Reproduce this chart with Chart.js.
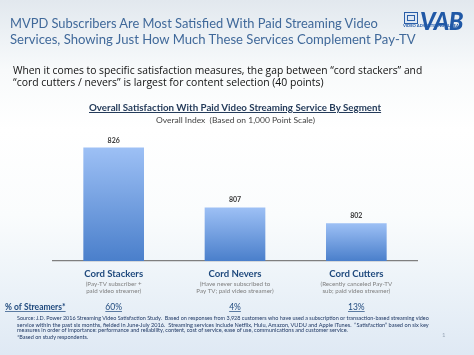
<!DOCTYPE html>
<html><head><meta charset="utf-8">
<script src="https://cdn.jsdelivr.net/npm/chart.js@4/dist/chart.umd.min.js"></script>
<style>
html,body{margin:0;padding:0;}
body{width:474px;height:355px;overflow:hidden;position:relative;font-family:Lato,sans-serif;
background:linear-gradient(180deg,#e2e8ee 0px,#ebf0f4 30px,#f8fafb 70px,#ffffff 130px,#fafcfd 215px,#ebf2f8 290px,#dfe9f4 355px);}
#cv{position:absolute;left:0;top:0;}
.t{position:absolute;white-space:nowrap;line-height:1;}
.hd{color:#40699a;font-size:13.5px;left:10px;}
.sb{color:#111;font-family:"Open Sans";font-size:9.8px;left:13px;}
.ft{color:#1f3864;font-size:5.2px;left:17px;}
</style></head><body>
<canvas id="cv" width="474" height="355"></canvas>

<div class="t hd" style="top:17px" data-w="368">MVPD Subscribers Are Most Satisfied With Paid Streaming Video</div>
<div class="t hd" style="top:32.6px" data-w="406">Services, Showing Just How Much These Services Complement Pay-TV</div>

<div style="position:absolute;left:404px;top:12px;width:12px;height:10px;border:1.3px solid #2a5ea8;background:#dfe8f3"></div>
<div style="position:absolute;left:407px;top:15px;width:6px;height:4px;border:1px solid #2a5ea8;"></div>
<div class="t" style="left:420px;top:10px;font-weight:900;font-style:italic;font-size:14.5px;color:#2058a6;letter-spacing:-0.5px" data-w="42">VAB</div>
<div class="t" style="left:403px;top:24px;font-weight:700;font-size:3.6px;color:#2058a6" data-w="59">VIDEO ADVERTISING BUREAU</div>

<div class="t sb" style="top:65px" data-w="410">When it comes to specific satisfaction measures, the gap between “cord stackers” and</div>
<div class="t sb" style="top:77px" data-w="311">“cord cutters / nevers” is largest for content selection (40 points)</div>

<div class="t" id="ct" style="left:89px;top:102.5px;font-weight:700;font-size:9.6px;color:#243b5a;text-decoration:underline" data-w="292">Overall Satisfaction With Paid Video Streaming Service By Segment</div>
<div class="t" style="left:156px;top:116px;font-size:8px;color:#444" data-w="159">Overall Index&nbsp; (Based on 1,000 Point Scale)</div>

<div class="t ft" style="top:316px" data-w="412">Source: J.D. Power 2016 Streaming Video Satisfaction Study.&nbsp; Based on responses from 3,928 customers who have used a subscription or transaction-based streaming video</div>
<div class="t ft" style="top:322.2px" data-w="411">service within the past six months, fielded in June-July 2016.&nbsp; Streaming services include Netflix, Hulu, Amazon, VUDU and Apple iTunes.&nbsp; “Satisfaction” based on six key</div>
<div class="t ft" style="top:328.4px" data-w="331">measures in order of importance: performance and reliability, content, cost of service, ease of use, communications and customer service.</div>
<div class="t ft" style="top:334.6px" data-w="71">*Based on study respondents.</div>
<div class="t" style="left:442px;top:332px;font-size:6px;color:#9aa8b8">1</div>

<script>
// ---- data ----
const categories = ['Cord Stackers', 'Cord Nevers', 'Cord Cutters'];
const descriptions = [
  ['(Pay-TV subscriber +', 'paid video streamer)'],
  ['(Have never subscribed to', 'Pay TV; paid video streamer)'],
  ['(Recently canceled Pay-TV', 'sub; paid video streamer)']
];
const satisfaction = [826, 807, 802];
const streamerShare = ['60%', '4%', '13%'];
const rowLabel = '% of Streamers*';
const yRange = [790, 830];

// fit html text widths
document.querySelectorAll('[data-w]').forEach(el => {
  const target = parseFloat(el.dataset.w);
  const w = el.getBoundingClientRect().width;
  const fs = parseFloat(getComputedStyle(el).fontSize);
  if (w > 0) el.style.fontSize = (fs * target / w) + 'px';
});

function underline(ctx, text, x, y, align) {
  const w = ctx.measureText(text).width;
  const x0 = align === 'center' ? x - w / 2 : x;
  ctx.fillRect(x0, y + 1.3, w, 0.7);
}

const labelPlugin = {
  id: 'labels',
  afterDraw(chart) {
    const { ctx, scales: { x, y } } = chart;
    const meta = chart.getDatasetMeta(0);
    ctx.save();
    ctx.textBaseline = 'alphabetic';
    ctx.textAlign = 'center';
    meta.data.forEach((bar, i) => {
      ctx.fillStyle = '#3a3a3a';
      ctx.font = 'bold 7px Lato';
      ctx.fillText(String(satisfaction[i]), bar.x, bar.y - 5);
      const cx = x.getPixelForValue(i);
      ctx.fillStyle = '#1f497d';
      ctx.font = 'bold 9.6px Lato';
      ctx.fillText(categories[i], cx, y.bottom + 15.5);
      ctx.fillStyle = '#7f7f7f';
      ctx.font = '6.2px Lato';
      descriptions[i].forEach((t, j) => ctx.fillText(t, cx, y.bottom + 25 + j * 6.8));
      ctx.fillStyle = '#1f497d';
      ctx.font = '8.5px Lato';
      ctx.fillText(streamerShare[i], cx, y.bottom + 49);
      underline(ctx, streamerShare[i], cx, y.bottom + 49, 'center');
    });
    ctx.textAlign = 'left';
    ctx.fillStyle = '#1f497d';
    ctx.font = 'bold 8.5px Lato';
    ctx.fillText(rowLabel, 5, y.bottom + 49);
    underline(ctx, rowLabel, 5, y.bottom + 49, 'left');
    ctx.restore();
  }
};

new Chart(document.getElementById('cv'), {
  type: 'bar',
  data: {
    labels: categories,
    datasets: [{
      data: satisfaction,
      barPercentage: 0.5,
      categoryPercentage: 1,
      backgroundColor(c) {
        const ch = c.chart;
        if (!ch.chartArea || c.raw === undefined) return '#75a2e3';
        const top = ch.scales.y.getPixelForValue(c.raw);
        const g = ch.ctx.createLinearGradient(0, top, 0, ch.chartArea.bottom);
        g.addColorStop(0, '#9dc0f5');
        g.addColorStop(1, '#4a7fcb');
        return g;
      }
    }]
  },
  options: {
    responsive: false,
    animation: false,
    layout: { padding: { top: 135, bottom: 94, left: 53, right: 57 } },
    plugins: { legend: { display: false }, tooltip: { enabled: false } },
    scales: {
      x: {
        grid: { display: false, drawTicks: false },
        ticks: { display: false },
        border: { display: true, color: '#7f7f7f', width: 1.2 }
      },
      y: { display: false, min: yRange[0], max: yRange[1] }
    }
  },
  plugins: [labelPlugin]
});
</script>
</body></html>
